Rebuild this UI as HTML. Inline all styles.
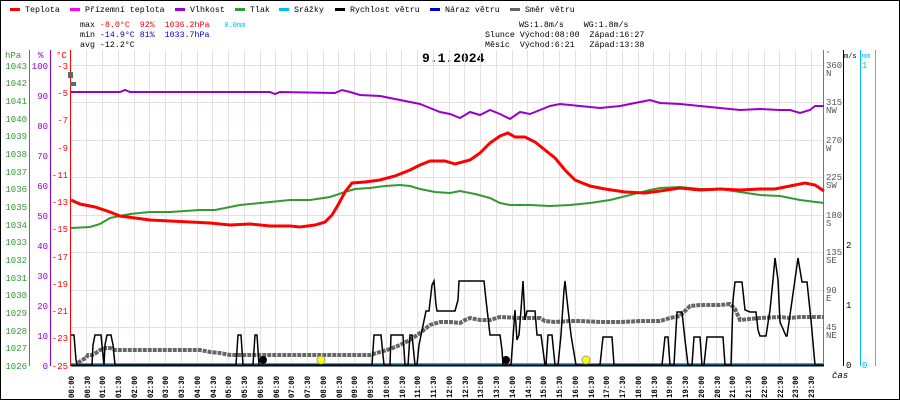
<!DOCTYPE html><html><head><style>body{margin:0;background:#fff}svg{display:block;font-family:"Liberation Mono","DejaVu Sans Mono",monospace}text{white-space:pre}</style></head><body>
<svg width="900" height="400" viewBox="0 0 900 400">
<rect x="0.5" y="0.5" width="899" height="399" fill="#fff" stroke="#000"/>
<g font-size="8.3">
<rect x="10" y="8" width="10" height="3" fill="#f00"/><text x="25" y="12">Teplota</text>
<rect x="70" y="8" width="10" height="3" fill="#f0f"/><text x="85" y="12">Přízemní teplota</text>
<rect x="175" y="8" width="10" height="3" fill="#90c"/><text x="190" y="12">Vlhkost</text>
<rect x="235" y="8" width="10" height="3" fill="#393"/><text x="250" y="12">Tlak</text>
<rect x="279" y="8" width="10" height="3" fill="#0bf"/><text x="294" y="12">Srážky</text>
<rect x="335" y="8" width="10" height="3" fill="#000"/><text x="350" y="12">Rychlost větru</text>
<rect x="430" y="8" width="10" height="3" fill="#00c"/><text x="445" y="12">Náraz větru</text>
<rect x="510" y="8" width="10" height="3" fill="#666"/><text x="525" y="12">Směr větru</text>
<text x="80" y="27">max <tspan fill="#f00">-8.0°C  92%  1036.2hPa</tspan>   <tspan fill="#0bf" font-size="7">0.0mm</tspan></text>
<text x="80" y="37">min <tspan fill="#00c">-14.9°C 81%  1033.7hPa</tspan></text>
<text x="80" y="47">avg -12.2°C</text>
<text x="519" y="27">WS:1.8m/s    WG:1.8m/s</text>
<text x="485" y="37">Slunce Východ:08:00  Západ:16:27</text>
<text x="485" y="47">Měsíc  Východ:6:21   Západ:13:38</text>
</g>
<text x="422" y="62" font-size="13" font-weight="bold">9.1.2024</text>
<g stroke="#e6e0e0" stroke-width="1">
<path d="M86.5 50V365M102.5 50V365M118.5 50V365M134.5 50V365M149.5 50V365M165.5 50V365M181.5 50V365M197.5 50V365M212.5 50V365M228.5 50V365M244.5 50V365M260.5 50V365M275.5 50V365M291.5 50V365M307.5 50V365M323.5 50V365M338.5 50V365M354.5 50V365M370.5 50V365M386.5 50V365M401.5 50V365M417.5 50V365M433.5 50V365M449.5 50V365M464.5 50V365M480.5 50V365M496.5 50V365M512.5 50V365M527.5 50V365M543.5 50V365M559.5 50V365M575.5 50V365M590.5 50V365M606.5 50V365M622.5 50V365M638.5 50V365M653.5 50V365M669.5 50V365M685.5 50V365M701.5 50V365M716.5 50V365M732.5 50V365M748.5 50V365M764.5 50V365M779.5 50V365M795.5 50V365M811.5 50V365"/>
<path d="M71 65.5H823M71 102.5H823M71 140.5H823M71 177.5H823M71 215.5H823M71 252.5H823M71 290.5H823M71 327.5H823"/>
</g>
<g font-size="9">
<line x1="29.5" y1="50" x2="29.5" y2="366" stroke="#393"/>
<line x1="50.5" y1="50" x2="50.5" y2="366" stroke="#90c"/>
<line x1="70.5" y1="50" x2="70.5" y2="366" stroke="#f00"/>
<text x="5" y="58" fill="#393">hPa</text><text x="38" y="58" fill="#90c">%</text><text x="56" y="58" fill="#f00">°C</text>
<g fill="#393" text-anchor="end">
<text x="27" y="69">1043</text><text x="27" y="86">1042</text><text x="27" y="104">1041</text><text x="27" y="122">1040</text><text x="27" y="139">1039</text><text x="27" y="157">1038</text><text x="27" y="175">1037</text><text x="27" y="192">1036</text><text x="27" y="210">1035</text><text x="27" y="228">1034</text><text x="27" y="245">1033</text><text x="27" y="263">1032</text><text x="27" y="281">1031</text><text x="27" y="298">1030</text><text x="27" y="316">1029</text><text x="27" y="334">1028</text><text x="27" y="351">1027</text><text x="27" y="369">1026</text>
</g>
<g fill="#90c" text-anchor="end">
<text x="48" y="69">100</text><text x="48" y="99">90</text><text x="48" y="129">80</text><text x="48" y="159">70</text><text x="48" y="189">60</text><text x="48" y="219">50</text><text x="48" y="249">40</text><text x="48" y="279">30</text><text x="48" y="309">20</text><text x="48" y="339">10</text><text x="48" y="369">0</text>
</g>
<g fill="#f00" text-anchor="end">
<text x="68" y="69">-3</text><text x="68" y="96">-5</text><text x="68" y="123">-7</text><text x="68" y="151">-9</text><text x="68" y="178">-11</text><text x="68" y="205">-13</text><text x="68" y="232">-15</text><text x="68" y="260">-17</text><text x="68" y="287">-19</text><text x="68" y="314">-21</text><text x="68" y="341">-23</text><text x="68" y="369">-25</text>
</g>
</g>
<g font-size="9">
<line x1="823.5" y1="50" x2="823.5" y2="366" stroke="#777"/>
<line x1="843.5" y1="50" x2="843.5" y2="366" stroke="#000"/>
<line x1="860.5" y1="50" x2="860.5" y2="366" stroke="#0bf"/>
<line x1="875.5" y1="50" x2="875.5" y2="366" stroke="#e83"/>
<g fill="#555">
<text x="826" y="56" font-size="7">°</text>
<text x="826" y="68">360</text><text x="826" y="76">N</text>
<text x="826" y="105">315</text><text x="826" y="113">NW</text>
<text x="826" y="143">270</text><text x="826" y="151">W</text>
<text x="826" y="180">225</text><text x="826" y="188">SW</text>
<text x="826" y="218">180</text><text x="826" y="226">S</text>
<text x="826" y="255">135</text><text x="826" y="263">SE</text>
<text x="826" y="293">90</text><text x="826" y="301">E</text>
<text x="826" y="330">45</text><text x="826" y="338">NE</text>
</g>
<text x="844" y="58" font-size="7">m/s</text>
<text x="846" y="248">2</text><text x="846" y="308">1</text><text x="846" y="368">0</text>
<text x="862" y="58" font-size="7" fill="#0bf">mm</text>
<text x="862" y="68" fill="#0bf">1</text><text x="862" y="368" fill="#0bf">0</text>
<text x="832" y="378" font-style="italic">čas</text>
</g>
<g font-size="8" font-weight="bold" text-anchor="end">
<text transform="translate(74,376) rotate(-90)" textLength="22" lengthAdjust="spacingAndGlyphs">00:00</text><text transform="translate(90,376) rotate(-90)" textLength="22" lengthAdjust="spacingAndGlyphs">00:30</text><text transform="translate(105,376) rotate(-90)" textLength="22" lengthAdjust="spacingAndGlyphs">01:00</text><text transform="translate(121,376) rotate(-90)" textLength="22" lengthAdjust="spacingAndGlyphs">01:30</text><text transform="translate(137,376) rotate(-90)" textLength="22" lengthAdjust="spacingAndGlyphs">02:00</text><text transform="translate(153,376) rotate(-90)" textLength="22" lengthAdjust="spacingAndGlyphs">02:30</text><text transform="translate(168,376) rotate(-90)" textLength="22" lengthAdjust="spacingAndGlyphs">03:00</text><text transform="translate(184,376) rotate(-90)" textLength="22" lengthAdjust="spacingAndGlyphs">03:30</text><text transform="translate(200,376) rotate(-90)" textLength="22" lengthAdjust="spacingAndGlyphs">04:00</text><text transform="translate(216,376) rotate(-90)" textLength="22" lengthAdjust="spacingAndGlyphs">04:30</text><text transform="translate(231,376) rotate(-90)" textLength="22" lengthAdjust="spacingAndGlyphs">05:00</text><text transform="translate(247,376) rotate(-90)" textLength="22" lengthAdjust="spacingAndGlyphs">05:30</text><text transform="translate(263,376) rotate(-90)" textLength="22" lengthAdjust="spacingAndGlyphs">06:00</text><text transform="translate(279,376) rotate(-90)" textLength="22" lengthAdjust="spacingAndGlyphs">06:30</text><text transform="translate(294,376) rotate(-90)" textLength="22" lengthAdjust="spacingAndGlyphs">07:00</text><text transform="translate(310,376) rotate(-90)" textLength="22" lengthAdjust="spacingAndGlyphs">07:30</text><text transform="translate(326,376) rotate(-90)" textLength="22" lengthAdjust="spacingAndGlyphs">08:00</text><text transform="translate(342,376) rotate(-90)" textLength="22" lengthAdjust="spacingAndGlyphs">08:30</text><text transform="translate(357,376) rotate(-90)" textLength="22" lengthAdjust="spacingAndGlyphs">09:00</text><text transform="translate(373,376) rotate(-90)" textLength="22" lengthAdjust="spacingAndGlyphs">09:30</text><text transform="translate(389,376) rotate(-90)" textLength="22" lengthAdjust="spacingAndGlyphs">10:00</text><text transform="translate(405,376) rotate(-90)" textLength="22" lengthAdjust="spacingAndGlyphs">10:30</text><text transform="translate(420,376) rotate(-90)" textLength="22" lengthAdjust="spacingAndGlyphs">11:00</text><text transform="translate(436,376) rotate(-90)" textLength="22" lengthAdjust="spacingAndGlyphs">11:30</text><text transform="translate(452,376) rotate(-90)" textLength="22" lengthAdjust="spacingAndGlyphs">12:00</text><text transform="translate(468,376) rotate(-90)" textLength="22" lengthAdjust="spacingAndGlyphs">12:30</text><text transform="translate(483,376) rotate(-90)" textLength="22" lengthAdjust="spacingAndGlyphs">13:00</text><text transform="translate(499,376) rotate(-90)" textLength="22" lengthAdjust="spacingAndGlyphs">13:30</text><text transform="translate(515,376) rotate(-90)" textLength="22" lengthAdjust="spacingAndGlyphs">14:00</text><text transform="translate(531,376) rotate(-90)" textLength="22" lengthAdjust="spacingAndGlyphs">14:30</text><text transform="translate(546,376) rotate(-90)" textLength="22" lengthAdjust="spacingAndGlyphs">15:00</text><text transform="translate(562,376) rotate(-90)" textLength="22" lengthAdjust="spacingAndGlyphs">15:30</text><text transform="translate(578,376) rotate(-90)" textLength="22" lengthAdjust="spacingAndGlyphs">16:00</text><text transform="translate(594,376) rotate(-90)" textLength="22" lengthAdjust="spacingAndGlyphs">16:30</text><text transform="translate(609,376) rotate(-90)" textLength="22" lengthAdjust="spacingAndGlyphs">17:00</text><text transform="translate(625,376) rotate(-90)" textLength="22" lengthAdjust="spacingAndGlyphs">17:30</text><text transform="translate(641,376) rotate(-90)" textLength="22" lengthAdjust="spacingAndGlyphs">18:00</text><text transform="translate(657,376) rotate(-90)" textLength="22" lengthAdjust="spacingAndGlyphs">18:30</text><text transform="translate(672,376) rotate(-90)" textLength="22" lengthAdjust="spacingAndGlyphs">19:00</text><text transform="translate(688,376) rotate(-90)" textLength="22" lengthAdjust="spacingAndGlyphs">19:30</text><text transform="translate(704,376) rotate(-90)" textLength="22" lengthAdjust="spacingAndGlyphs">20:00</text><text transform="translate(720,376) rotate(-90)" textLength="22" lengthAdjust="spacingAndGlyphs">20:30</text><text transform="translate(735,376) rotate(-90)" textLength="22" lengthAdjust="spacingAndGlyphs">21:00</text><text transform="translate(751,376) rotate(-90)" textLength="22" lengthAdjust="spacingAndGlyphs">21:30</text><text transform="translate(767,376) rotate(-90)" textLength="22" lengthAdjust="spacingAndGlyphs">22:00</text><text transform="translate(783,376) rotate(-90)" textLength="22" lengthAdjust="spacingAndGlyphs">22:30</text><text transform="translate(798,376) rotate(-90)" textLength="22" lengthAdjust="spacingAndGlyphs">23:00</text><text transform="translate(814,376) rotate(-90)" textLength="22" lengthAdjust="spacingAndGlyphs">23:30</text>
</g>
<polyline fill="none" stroke="#90c" stroke-width="2" points="71,92 120,92 125,90 130,92 200,92 270,92 275,94 280,92 335,93 342,90 350,92 360,95 380,96 400,100 420,104 430,108 440,112 450,114 460,118 470,112 480,115 490,110 500,114 510,119 520,112 530,114 540,110 550,106 560,104 580,106 600,108 620,106 640,102 650,100 660,103 680,104 700,106 720,108 740,110 760,109 780,110 790,110 800,113 810,110 815,106 824,106"/>
<polyline fill="none" stroke="#393" stroke-width="2" points="71,228 90,227 100,224 110,218 120,216 130,214 150,212 170,212 200,210 215,210 230,207 240,205 260,203 290,200 310,200 330,197 345,192 355,189 370,188 385,186 400,185 410,186 420,189 435,192 450,193 460,191 475,194 490,198 500,203 510,205 530,205 550,206 570,205 590,203 610,200 630,195 650,190 660,188 680,187 700,189 720,189 740,192 760,195 780,196 800,200 824,203"/>
<polyline fill="none" stroke="#f00" stroke-width="3" points="71,200 80,204 95,207 110,212 120,216 135,218 150,220 170,221 190,222 210,223 230,225 250,224 270,226 290,226 300,227 315,225 325,222 332,215 338,205 345,192 352,183 365,182 380,180 395,176 410,170 420,165 430,161 445,161 455,164 470,160 480,153 490,143 500,136 508,133 515,137 525,137 535,142 545,150 555,158 565,170 575,180 590,186 605,189 625,192 645,193 660,191 680,188 700,190 720,189 740,190 760,189 775,189 790,186 805,183 815,185 824,191"/>
<polyline fill="none" stroke="#0bf" stroke-width="2" points="71,364 824,364"/>
<polyline fill="none" stroke="#666" stroke-width="4" stroke-dasharray="4,1" points="78,363 82,360 86,358 88,355 92,355 96,353 100,350 106,348 110,348 115,350 120,350 140,350 200,350 210,352 220,353 230,355 250,355 300,355 340,355 370,355 380,352 390,349 400,345 410,340 420,333 430,325 440,322 450,322 460,323 465,320 470,318 480,320 490,320 500,317 520,318 540,318 545,321 555,322 570,321 580,321 600,322 620,322 640,321 660,321 670,318 680,316 690,306 700,305 720,305 730,304 735,309 740,320 760,318 780,317 790,318 800,317 824,317"/>
<rect x="68" y="72" width="5" height="6" fill="#666"/><rect x="70" y="82" width="6" height="4" fill="#666"/>
<polyline fill="none" stroke="#000" stroke-width="1.5" points="71,335 74,335 76,360 77,365 92,365 93,345 95,335 101,335 102,345 104,365 105,345 107,335 111,335 113,345 115,365 236,365 238,335 241,335 243,365 253,365 255,335 257,335 259,365 372,365 374,335 381,335 384,365 390,365 391,335 403,335 405,365 408,365 410,335 412,335 415,365 417,365 419,345 426,311 429,311 432,285 434,281 436,305 437,311 455,311 458,300 459,281 484,281 486,300 490,335 500,335 502,350 503,365 511,365 515,310 517,340 519,335 521,310 523,281 525,320 527,311 535,311 537,335 541,335 545,365 546,365 548,335 552,335 555,365 558,365 561,335 564,290 565,281 567,300 571,335 576,365 600,365 603,337 612,337 614,365 662,365 665,337 668,337 670,365 674,365 677,312 682,312 685,340 688,365 692,365 694,337 700,337 702,365 704,365 707,337 723,337 725,365 731,365 733,300 735,282 742,282 745,310 750,312 756,312 758,330 760,336 766,336 770,310 773,280 775,258 778,280 780,322 786,336 787,336 790,315 798,258 802,282 807,282 811,320 815,365 824,365"/>
<line x1="71" y1="365.5" x2="824" y2="365.5" stroke="#000" stroke-width="2"/>
<circle cx="263" cy="360" r="4" fill="#000"/><circle cx="506" cy="360" r="4" fill="#000"/>
<circle cx="321" cy="360" r="4" fill="#ff0" stroke="#999"/><circle cx="586" cy="360" r="4" fill="#ff0" stroke="#999"/>
</svg>
</body></html>
